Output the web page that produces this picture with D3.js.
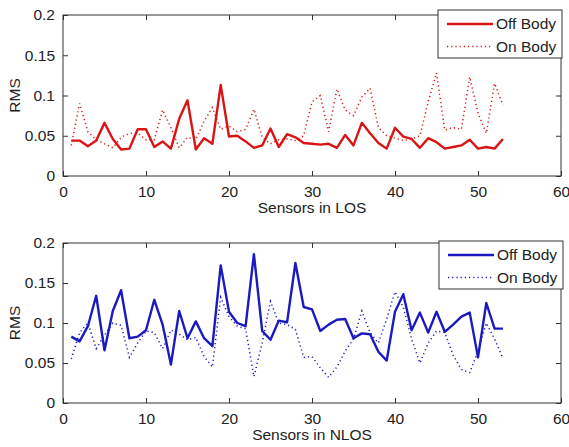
<!DOCTYPE html>
<html>
<head>
<meta charset="utf-8">
<script src="https://cdn.jsdelivr.net/npm/d3@7"></script>
<style>
  html, body { margin: 0; padding: 0; background: #fff; }
  svg { display: block; }
  text { font-family: "Liberation Sans", Arial, sans-serif; fill: #222; }
</style>
</head>
<body>
<svg id="chart" width="569" height="447"></svg>
<script>
// ---- data ----
const sensors = d3.range(1, 54);
const losOffBody = [0.044,0.044,0.037,0.044,0.066,0.046,0.033,0.034,0.058,0.058,
  0.036,0.043,0.034,0.071,0.094,0.033,0.047,0.040,0.113,0.049,
  0.050,0.043,0.035,0.038,0.059,0.036,0.052,0.048,0.041,0.040,
  0.039,0.040,0.035,0.051,0.038,0.066,0.053,0.041,0.034,0.060,
  0.049,0.046,0.035,0.047,0.042,0.034,0.036,0.038,0.045,0.034,
  0.036,0.034,0.046];
const losOnBody = [0.038,0.090,0.055,0.045,0.040,0.035,0.048,0.053,0.053,0.045,
  0.045,0.082,0.060,0.035,0.048,0.045,0.068,0.085,0.058,0.062,
  0.055,0.058,0.083,0.048,0.040,0.045,0.046,0.044,0.050,0.092,
  0.100,0.055,0.108,0.082,0.075,0.098,0.109,0.060,0.050,0.047,
  0.044,0.046,0.050,0.092,0.128,0.057,0.060,0.058,0.123,0.078,
  0.053,0.115,0.088];
const nlosOffBody = [0.083,0.077,0.096,0.134,0.066,0.115,0.141,0.081,0.083,0.091,
  0.129,0.098,0.048,0.115,0.081,0.102,0.081,0.071,0.172,0.114,
  0.100,0.096,0.186,0.090,0.079,0.103,0.101,0.175,0.120,0.117,
  0.090,0.098,0.104,0.105,0.081,0.087,0.086,0.064,0.053,0.114,
  0.136,0.091,0.113,0.088,0.114,0.089,0.098,0.108,0.113,0.057,
  0.125,0.093,0.093];
const nlosOnBody = [0.055,0.088,0.100,0.068,0.085,0.100,0.097,0.057,0.075,0.090,
  0.088,0.068,0.091,0.086,0.079,0.082,0.058,0.045,0.132,0.108,
  0.096,0.093,0.033,0.075,0.127,0.100,0.098,0.092,0.057,0.058,
  0.044,0.032,0.045,0.065,0.080,0.115,0.088,0.075,0.105,0.139,
  0.120,0.080,0.050,0.075,0.090,0.088,0.060,0.042,0.038,0.065,
  0.100,0.080,0.056];
const xTicks = [0, 10, 20, 30, 40, 50, 60];
const yTicks = [0, 0.05, 0.1, 0.15, 0.2];
const yTickLabels = ["0", "0.05", "0.1", "0.15", "0.2"];
const legendLabels = ["Off Body", "On Body"];
const xTitles = ["Sensors in LOS", "Sensors in NLOS"];
const yTitle = "RMS";

// ---- layout ----
const svg = d3.select("#chart");
const left = 63, right = 561;
const panels = [
  { top: 15, bottom: 176, off: losOffBody, on: losOnBody, color: "#d81414", title: xTitles[0], legend: {x: 438, y: 10} },
  { top: 243, bottom: 403, off: nlosOffBody, on: nlosOnBody, color: "#1a1ac0", title: xTitles[1], legend: {x: 439, y: 241} }
];
const fs = 15.5;

panels.forEach(p => {
  const x = d3.scaleLinear().domain([0, 60]).range([left, right]);
  const y = d3.scaleLinear().domain([0, 0.2]).range([p.bottom, p.top]);
  const g = svg.append("g");

  // axes box
  g.append("rect").attr("x", left).attr("y", p.top)
    .attr("width", right - left).attr("height", p.bottom - p.top)
    .attr("fill", "none").attr("stroke", "#333").attr("stroke-width", 1);

  const tl = 5;
  const xb = d3.axisBottom(x).tickValues(xTicks).tickSizeInner(-tl).tickSizeOuter(0).tickPadding(tl + 5).tickFormat(d3.format("d"));
  const xa = g.append("g").attr("transform", `translate(0,${p.bottom})`).call(xb);
  const xt = d3.axisTop(x).tickValues(xTicks).tickSizeInner(-tl).tickSizeOuter(0).tickFormat("");
  const xat = g.append("g").attr("transform", `translate(0,${p.top})`).call(xt);
  const yl = d3.axisLeft(y).tickValues(yTicks).tickSizeInner(-tl).tickSizeOuter(0).tickPadding(tl + 3)
    .tickFormat((d, i) => yTickLabels[i]);
  const ya = g.append("g").attr("transform", `translate(${left},0)`).call(yl);
  const yr = d3.axisRight(y).tickValues(yTicks).tickSizeInner(-tl).tickSizeOuter(0).tickFormat("");
  const yar = g.append("g").attr("transform", `translate(${right},0)`).call(yr);
  [xa, xat, ya, yar].forEach(a => {
    a.select(".domain").remove();
    a.selectAll("line").attr("stroke", "#333");
    a.selectAll("text").attr("font-size", fs).attr("font-family", "Liberation Sans, Arial, sans-serif").attr("fill", "#222");
  });

  // lines
  const line = d3.line().x((d, i) => x(sensors[i])).y(d => y(d));
  g.append("path").datum(p.on).attr("d", line).attr("fill", "none")
    .attr("stroke", p.color).attr("stroke-width", 1.5).attr("stroke-dasharray", "1.2,3");
  g.append("path").datum(p.off).attr("d", line).attr("fill", "none")
    .attr("stroke", p.color).attr("stroke-width", 2.4).attr("stroke-linejoin", "round");

  // titles
  g.append("text").attr("x", (left + right) / 2).attr("y", p.bottom + 37)
    .attr("text-anchor", "middle").attr("font-size", fs).text(p.title);
  g.append("text").attr("transform", `translate(20,${(p.top + p.bottom) / 2}) rotate(-90)`)
    .attr("text-anchor", "middle").attr("font-size", fs).text(yTitle);

  // legend
  const lg = g.append("g").attr("transform", `translate(${p.legend.x},${p.legend.y})`);
  lg.append("rect").attr("width", 124).attr("height", 48).attr("fill", "#fff")
    .attr("stroke", "#333").attr("stroke-width", 1);
  legendLabels.forEach((lab, i) => {
    const cy = 14 + i * 22.5;
    lg.append("line").attr("x1", 9).attr("x2", 55).attr("y1", cy).attr("y2", cy)
      .attr("stroke", p.color).attr("stroke-width", i === 0 ? 2.4 : 1.5)
      .attr("stroke-dasharray", i === 0 ? null : "1.2,3");
    lg.append("text").attr("x", 58).attr("y", cy).attr("dy", "0.35em")
      .attr("font-size", fs).text(lab);
  });
});
</script>
</body>
</html>
